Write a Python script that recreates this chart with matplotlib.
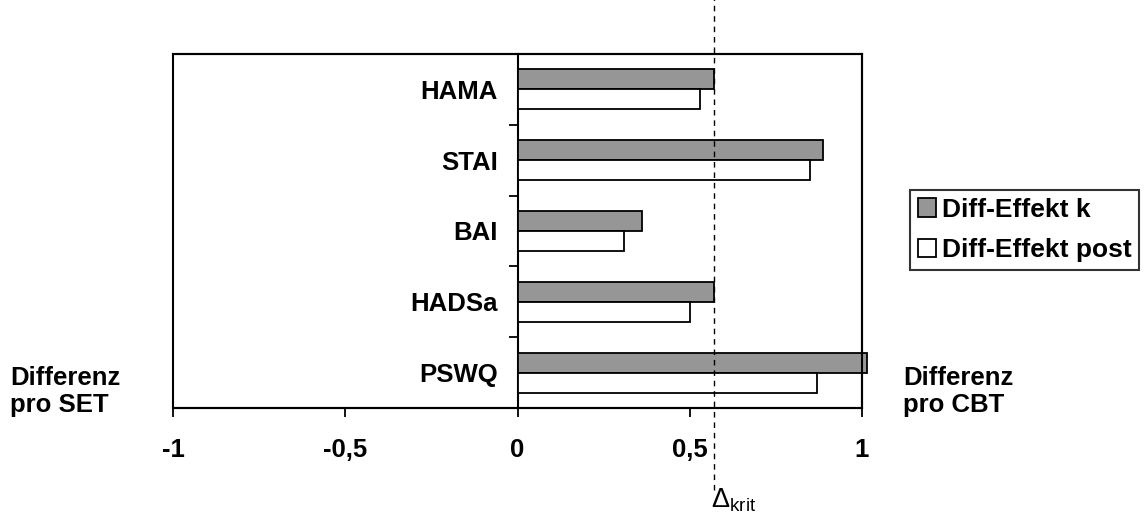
import matplotlib
matplotlib.use('Agg')
import matplotlib.pyplot as plt
from matplotlib.patches import Rectangle
from matplotlib.transforms import blended_transform_factory

plt.rcParams['font.family'] = ['Liberation Sans', 'DejaVu Sans']
plt.rcParams['mathtext.fontset'] = 'custom'
plt.rcParams['mathtext.rm'] = 'Liberation Sans'
plt.rcParams['mathtext.it'] = 'Liberation Sans'

# data
scales = ['HAMA', 'STAI', 'BAI', 'HADSa', 'PSWQ']
effekt_k = [0.57, 0.888, 0.36, 0.57, 1.015]
effekt_post = [0.531, 0.849, 0.309, 0.50, 0.868]
delta_krit = 0.57
xticks = [-1, -0.5, 0, 0.5, 1]
xticklabels = ['-1', '-0,5', '0', '0,5', '1']

fs = 18.5

fig = plt.figure(figsize=(11.46, 5.15), dpi=100)
ax = fig.add_axes([173/1146, 107/515, 689/1146, 354/515])

n = len(scales)
ypos = [n - 1 - i for i in range(n)]  # top to bottom
h = 0.283
ax.barh([y + h/2 for y in ypos], effekt_k, height=h, color='#969696',
        edgecolor='black', linewidth=1.3, clip_on=False, label='Diff-Effekt k', zorder=3)
ax.barh([y - h/2 for y in ypos], effekt_post, height=h, color='white',
        edgecolor='black', linewidth=1.3, clip_on=False, label='Diff-Effekt post', zorder=3)

ax.set_xlim(-1, 1)
ax.set_ylim(-0.5, n - 0.5)

# y axis sits at zero, box frame around the plot
for s in ['top', 'right', 'bottom']:
    ax.spines[s].set_linewidth(1.5)
ax.spines['left'].set_position(('data', 0))
ax.spines['left'].set_linewidth(1.5)
ax.add_patch(Rectangle((0, 0), 1, 1, transform=ax.transAxes, fill=False,
                       edgecolor='black', linewidth=1.5, clip_on=False, zorder=4))

ax.set_yticks([y - 0.5 for y in range(n + 1)])
ax.set_yticklabels([])
ax.set_yticks(ypos, minor=True)
ax.set_yticklabels(scales, minor=True, fontsize=fs, fontweight='bold')
ax.tick_params(axis='y', which='major', direction='out', length=6.5, width=1.3)
ax.tick_params(axis='y', which='minor', length=0, pad=14)

ax.set_xticks(xticks)
ax.set_xticklabels(xticklabels, fontsize=fs, fontweight='bold')
ax.tick_params(axis='x', direction='out', length=6.5, width=1.3, pad=15)

# critical difference line, reaches beyond the plot
ax.plot([delta_krit, delta_krit], [-1.66, n + 0.65], color='black', linestyle=(0, (4, 3.5)),
        linewidth=1.0, clip_on=False, zorder=5)
tr = blended_transform_factory(ax.transData, fig.transFigure)
ax.text(delta_krit - 0.008, 1 - 486/515, r'$\Delta_{\mathrm{krit}}$', fontsize=19.5,
        ha='left', va='top', transform=tr)

fig.text(10/1146, 1 - 366/515, 'Differenz\npro SET', fontsize=fs, fontweight='bold',
         ha='left', va='top', linespacing=1.15)
fig.text(903/1146, 1 - 366/515, 'Differenz\npro CBT', fontsize=fs, fontweight='bold',
         ha='left', va='top', linespacing=1.15)

leg = fig.legend(loc='upper left', bbox_to_anchor=(910/1146, 1 - 190/515),
                 prop={'size': 19, 'weight': 'bold'}, frameon=True, fancybox=False,
                 edgecolor='black', handlelength=0.7, handleheight=0.7,
                 handletextpad=0.2, labelspacing=0.62, borderpad=0.3, borderaxespad=0)
leg.get_frame().set_linewidth(1.5)

fig.savefig('out.png', dpi=100)
